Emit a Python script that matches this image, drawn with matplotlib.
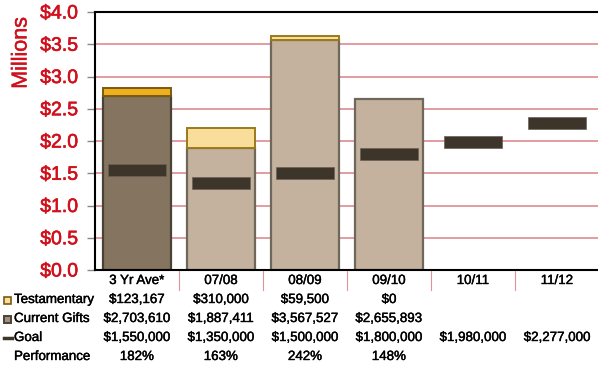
import matplotlib
matplotlib.use("Agg")
import matplotlib.pyplot as plt
from matplotlib.patches import Rectangle
from matplotlib.lines import Line2D
import matplotlib.patheffects as pe

plt.rcParams['font.family'] = ['Liberation Sans', 'DejaVu Sans']

categories = ["3 Yr Ave*", "07/08", "08/09", "09/10", "10/11", "11/12"]
current_gifts = [2.703610, 1.887411, 3.567527, 2.655893, None, None]
testamentary = [0.123167, 0.310000, 0.059500, 0.0, None, None]
goal = [1.55, 1.35, 1.50, 1.80, 1.98, 2.277]
yticks = [0.0, 0.5, 1.0, 1.5, 2.0, 2.5, 3.0, 3.5, 4.0]
ytick_labels = ["$0.0", "$0.5", "$1.0", "$1.5", "$2.0", "$2.5", "$3.0", "$3.5", "$4.0"]

testamentary_txt = ["$123,167", "$310,000", "$59,500", "$0", "", ""]
current_txt = ["$2,703,610", "$1,887,411", "$3,567,527", "$2,655,893", "", ""]
goal_txt = ["$1,550,000", "$1,350,000", "$1,500,000", "$1,800,000", "$1,980,000", "$2,277,000"]
perf_txt = ["182%", "163%", "242%", "148%", "", ""]

RED = "#d0101c"
GRID = "#e0949a"

def heavy(color, w=0.5):
    return [pe.withStroke(linewidth=w, foreground=color)]

W, H = 598, 366
fig = plt.figure(figsize=(W / 100, H / 100), dpi=100)
ax = fig.add_axes([95 / W, (H - 270) / H, 504 / W, 258 / H])
ax.set_xlim(-0.5, 5.5)
ax.set_ylim(0, 4.0)

for y in yticks[1:-1]:
    ax.axhline(y, color=GRID, lw=1.3, zorder=0)

bw = 0.82
gw = 0.70
gh = 0.19
x = list(range(len(categories)))
for i in x:
    cg = current_gifts[i]
    if cg is not None:
        if i == 0:
            fc, ec, tfc, tec = "#857560", "#4a4236", "#f0b01e", "#7a5a10"
        else:
            fc, ec, tfc, tec = "#c4b29f", "#6f665c", "#f9dd9b", "#9b7a1a"
        ax.bar(i, cg, width=bw, color=fc, edgecolor=ec, linewidth=1.6, zorder=2)
        t = testamentary[i]
        if t and t > 0:
            ax.bar(i, t, bottom=cg, width=bw, color=tfc, edgecolor=tec, linewidth=1.4, zorder=3)
    ax.add_patch(Rectangle((i - gw / 2, goal[i] - gh / 2), gw, gh,
                           facecolor="#3d342a", edgecolor="#6a6058", lw=0.5, zorder=4))

for s in ["top", "left", "bottom"]:
    ax.spines[s].set_color("black")
    ax.spines[s].set_linewidth(1.5)
ax.spines["right"].set_visible(False)

ax.set_yticks(yticks)
ax.set_yticklabels(ytick_labels, color=RED, fontsize=14)
for lab in ax.get_yticklabels():
    lab.set_path_effects(heavy(RED, 0.45))
ax.tick_params(axis="y", length=6, color="#888888", width=1, pad=6)
ax.set_xticks([])

fig.text(21 / W, 1 - 53 / H, "Millions", color=RED, fontsize=15.5, rotation=90,
         ha="center", va="center", path_effects=heavy(RED, 0.3))

def row_y(py):
    return 1 - py / H

FS = 9.6
for i, c in enumerate(categories):
    xf = ax.transData.transform((i, 0))[0] / W
    for py, txt in [(281, c), (300, testamentary_txt[i]), (319, current_txt[i]),
                    (338, goal_txt[i]), (357, perf_txt[i])]:
        if txt:
            fig.text(xf, row_y(py), txt, ha="center", va="center", fontsize=FS,
                     path_effects=heavy("black", 0.3))

for i in range(1, len(categories)):
    xf = ax.transData.transform((i - 0.5, 0))[0] / W
    fig.add_artist(Line2D([xf, xf], [row_y(271), row_y(290)], color=GRID, lw=0.8))

lx = 14 / W
for py, txt in [(300, "Testamentary"), (319, "Current Gifts"), (338, "Goal"), (357, "Performance")]:
    fig.text(lx, row_y(py), txt, ha="left", va="center", fontsize=FS,
             path_effects=heavy("black", 0.3))

fig.add_artist(Rectangle((4 / W, row_y(304)), 7 / W, 7 / H, facecolor="#f9dd9b",
                         edgecolor="#7a5a10", lw=1.2))
fig.add_artist(Rectangle((4 / W, row_y(323)), 7 / W, 7 / H, facecolor="#a09080",
                         edgecolor="#4a4236", lw=1.4))
fig.add_artist(Line2D([4 / W, 12 / W], [row_y(338), row_y(338)], color="#3d342a", lw=2.5))

fig.savefig("out.png", dpi=100)
